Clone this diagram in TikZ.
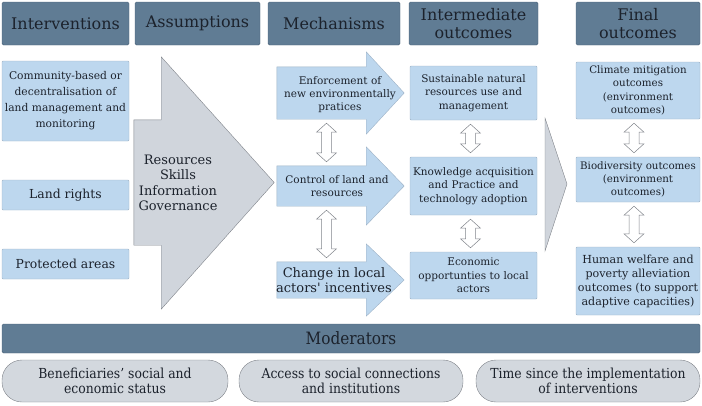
\documentclass[tikz,border=0pt]{standalone}
\usepackage{fontspec}
\setmainfont{DejaVu Serif}
\newfontfamily\condfont{DejaVu Serif Condensed}
\usetikzlibrary{positioning,calc}
\definecolor{HeadSlate}{RGB}{96,124,148}
\definecolor{HeadEdge}{RGB}{74,98,120}
\definecolor{InkDark}{RGB}{28,34,44}
\definecolor{BoxBlue}{RGB}{189,215,238}
\definecolor{BoxEdge}{RGB}{158,178,198}
\definecolor{ArrowGrey}{RGB}{208,213,220}
\definecolor{ArrowEdge}{RGB}{128,132,138}
\definecolor{PillGrey}{RGB}{211,216,222}

\begin{document}
\begin{tikzpicture}[x=1pt,y=-1pt, every node/.style={align=center, text=InkDark, inner sep=1pt}]
\tikzset{
  header/.style={draw=HeadEdge, fill=HeadSlate, rounded corners=1.5pt, minimum height=43pt, font=\fontsize{16}{18}\selectfont},
  box/.style={draw=BoxEdge, fill=BoxBlue, rounded corners=1pt, font=\fontsize{10.5}{13.3}\selectfont},
  shaft/.style={minimum width=89pt, inner sep=0pt},
  mtext/.style={font=\fontsize{10.5}{13}\selectfont},
  fat/.style={draw=BoxEdge, fill=BoxBlue},
  greyfat/.style={draw=ArrowEdge, fill=ArrowGrey},
  twoway/.style={draw=ArrowEdge, fill=white, line width=0.5pt},
  pill/.style={draw=ArrowEdge, fill=PillGrey, rounded corners=20pt, minimum height=42pt, font=\condfont\fontsize{13.8}{15.5}\selectfont}
}
\useasboundingbox (0,0) rectangle (702,405);

% column headers
\node[header, minimum width=127pt] (hInt) at (65.5,23.5) {Interventions};
\node[header, minimum width=125pt] (hAss) at (197.5,23.5) {Assumptions};
\node[header, minimum width=132pt] (hMech) at (334,23.5) {Mechanisms};
\node[header, minimum width=129pt] (hInter) at (473.5,23.5) {Intermediate\\outcomes};
\node[header, minimum width=124pt] (hFin) at (638,23.5) {Final\\outcomes};

% interventions
\node[box, minimum width=127pt, minimum height=80pt, font=\fontsize{10.7}{16}\selectfont] (iComm) at (65.5,101)
  {Community-based or\\decentralisation of\\land management and\\monitoring};
\node[box, minimum width=127pt, minimum height=30pt, font=\fontsize{12.4}{16}\selectfont] (iLand) at (65.5,195) {Land rights};
\node[box, minimum width=127pt, minimum height=30pt, font=\fontsize{12.4}{16}\selectfont] (iProt) at (65.5,264) {Protected areas};

% assumptions
\node[minimum width=27pt, minimum height=125pt, inner sep=0pt] (aShaft) at (147.5,182.5) {};
\draw[greyfat] (aShaft.north west) -- (aShaft.north east) -- ++(0,-63) -- ($(aShaft.east)+(113,0)$)
  -- ($(aShaft.south east)+(0,64)$) -- (aShaft.south east) -- (aShaft.south west) -- cycle;
\node[font=\fontsize{13}{15.5}\selectfont] (aText) at (178,183) {Resources\\Skills\\Information\\Governance};

% mechanisms
\node[shaft, minimum height=52pt] (m1s) at (321.5,93) {};
\node[shaft, minimum height=40pt] (m2s) at (321.5,186) {};
\node[shaft, minimum height=36pt] (m3s) at (321.5,280) {};
\draw[fat] (m1s.north west) -- (m1s.north east) -- ++(0,-15) -- ($(m1s.east)+(38,0)$)
  -- ($(m1s.south east)+(0,15)$) -- (m1s.south east) -- (m1s.south west) -- cycle;
\draw[fat] (m2s.north west) -- (m2s.north east) -- ++(0,-19) -- ($(m2s.east)+(38,0)$)
  -- ($(m2s.south east)+(0,19)$) -- (m2s.south east) -- (m2s.south west) -- cycle;
\draw[fat] (m3s.north west) -- (m3s.north east) -- ++(0,-18) -- ($(m3s.east)+(38,0)$)
  -- ($(m3s.south east)+(0,18)$) -- (m3s.south east) -- (m3s.south west) -- cycle;
\node[mtext] (m1) at (340,95) {Enforcement of\\new environmentally\\pratices};
\node[mtext] (m2) at (337,186) {Control of land and\\resources};
\node[mtext, font=\fontsize{13}{15}\selectfont] (m3) at (334,280) {Change in local\\actors\textquotesingle{} incentives};

% intermediate outcomes
\node[box, minimum width=127pt, minimum height=54pt] (o1) at (473.5,93) {Sustainable natural\\resources use and\\management};
\node[box, minimum width=127pt, minimum height=58pt] (o2) at (473.5,186) {Knowledge acquisition\\and Practice and\\technology adoption};
\node[box, minimum width=127pt, minimum height=47pt] (o3) at (473.5,275.5) {Economic\\opportunties to local\\actors};

\draw[greyfat] (545,118) -- (567,184) -- (545,251) -- cycle;

% final outcomes
\node[box, minimum width=124pt, minimum height=57pt, font=\fontsize{10.3}{13.3}\selectfont] (f1) at (638,90.5) {Climate mitigation\\outcomes\\(environment\\outcomes)};
\node[box, minimum width=124pt, minimum height=45pt, font=\fontsize{10.3}{13.3}\selectfont] (f2) at (638,179.5) {Biodiversity outcomes\\(environment\\outcomes)};
\node[box, minimum width=124pt, minimum height=68pt, font=\fontsize{11.1}{14}\selectfont] (f3) at (638,281)
  {Human welfare and\\poverty alleviation\\outcomes (to support\\adaptive capacities)};

% two-way links
\foreach \boxa/\boxb/\dx in {m1s/m2s/5, m2s/m3s/5, o1/o2/-3, o2/o3/-3, f1/f2/-4, f2/f3/-4}
  \draw[twoway] let \p1=($(\boxa.south)+(\dx,4)$), \p2=($(\boxb.north)+(\dx,-4)$) in
    (\x1,\y1) -- (\x1+10pt,\y1-9pt) -- (\x1+5pt,\y1-9pt) -- (\x1+5pt,\y2+9pt) -- (\x1+10pt,\y2+9pt)
    -- (\x1,\y2) -- (\x1-10pt,\y2+9pt) -- (\x1-5pt,\y2+9pt) -- (\x1-5pt,\y1-9pt) -- (\x1-10pt,\y1-9pt) -- cycle;

% moderators
\node[header, minimum width=698pt, minimum height=29pt, font=\condfont\fontsize{17}{18}\selectfont] (mod) at (351,338.5) {Moderators};
\node[pill, minimum width=226pt] (p1) at (115,381) {Beneficiaries’ social and\\economic status};
\node[pill, minimum width=224pt] (p2) at (351,381) {Access to social connections\\and institutions};
\node[pill, minimum width=224pt] (p3) at (588,381) {Time since the implementation\\of interventions};
\end{tikzpicture}
\end{document}
